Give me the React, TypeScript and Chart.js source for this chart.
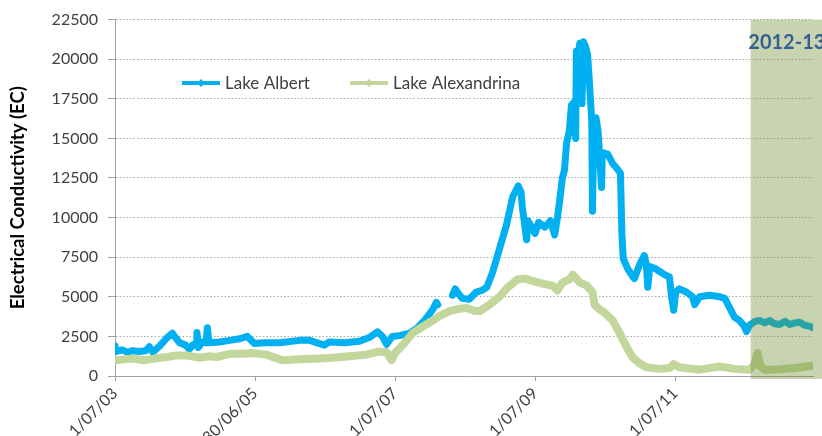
import React, { useEffect, useRef } from "react";
import { Chart, registerables } from "chart.js";

Chart.register(...registerables);

// X positions are decimal years (2003.5 = 1 July 2003)
const tickYears = [2003.5, 2005.5, 2007.5, 2009.5, 2011.5];
const tickLabels = ["1/07/03", "30/06/05", "1/07/07", "1/07/09", "1/07/11"];
const xMin = 2003.5;
const xMax = 2013.47;
const shadeStart = 2012.58;
const shadeLabel = "2012-13";

const yTicks = [0, 2500, 5000, 7500, 10000, 12500, 15000, 17500, 20000, 22500];

const albertYears = [
  2003.5, 2003.52, 2003.6, 2003.68, 2003.75, 2003.85, 2003.94, 2003.99, 2004.04, 2004.14,
  2004.24, 2004.32, 2004.36, 2004.42, 2004.51, 2004.56, 2004.62, 2004.66, 2004.67, 2004.69,
  2004.75, 2004.8, 2004.82, 2004.84, 2004.99, 2005.14, 2005.28, 2005.39, 2005.49, 2005.64,
  2005.85, 2006.14, 2006.28, 2006.49, 2006.56, 2006.78, 2006.99, 2007.14, 2007.25, 2007.32,
  2007.38, 2007.46, 2007.56, 2007.71, 2007.81, 2007.92, 2008.04, 2008.09, 2008.11, 2008.2,
  2008.32, 2008.36, 2008.39, 2008.46, 2008.56, 2008.66, 2008.74, 2008.81, 2008.89, 2008.99,
  2009.09, 2009.18, 2009.26, 2009.3, 2009.32, 2009.38, 2009.4, 2009.5, 2009.55, 2009.64,
  2009.72, 2009.78, 2009.82, 2009.85, 2009.89, 2009.92, 2009.95, 2009.99, 2010.02, 2010.06,
  2010.08, 2010.09, 2010.11, 2010.14, 2010.17, 2010.19, 2010.22, 2010.25, 2010.27, 2010.29,
  2010.31, 2010.32, 2010.34, 2010.37, 2010.4, 2010.45, 2010.46, 2010.54, 2010.61, 2010.67,
  2010.72, 2010.74, 2010.76, 2010.82, 2010.89, 2010.92, 2010.99, 2011.06, 2011.09, 2011.11,
  2011.14, 2011.21, 2011.28, 2011.35, 2011.42, 2011.45, 2011.48, 2011.51, 2011.56, 2011.66,
  2011.75, 2011.78, 2011.85, 2011.99, 2012.14, 2012.21, 2012.28, 2012.35, 2012.42, 2012.48,
  2012.52, 2012.56, 2012.64, 2012.71, 2012.78, 2012.85, 2012.92, 2012.99, 2013.07, 2013.14,
  2013.21, 2013.28, 2013.35, 2013.42, 2013.47,
];
const albertValues = [
  1900, 1550, 1650, 1500, 1600, 1550, 1600, 1850, 1500, 1900,
  2400, 2700, 2450, 2100, 1950, 1700, 2000, 2050, 2750, 1800,
  2150, 2100, 3050, 2100, 2150, 2250, 2350, 2500, 2050, 2100,
  2100, 2250, 2250, 1950, 2150, 2100, 2200, 2450, 2780, 2500,
  2000, 2500, 2550, 2700, 3000, 3500, 4200, 4650, 4500, null,
  5100, 5500, 5300, 4900, 4850, 5300, 5400, 5600, 6500, 8000,
  9500, 11300, 12000, 11600, 10600, 8600, 9800, 9000, 9700, 9400,
  9800, 8900, 10000, 11000, 12500, 13000, 14700, 15500, 17100, 17300,
  15000, 20500, 20200, 21000, 17200, 21100, 20800, 20300, 19000, 17550,
  16100, 10400, 16000, 16300, 15500, 11900, 14100, 14000, 13400, 13100,
  12800, 9000, 7400, 6800, 6300, 6150, 7000, 7600, 7000, 5600,
  6900, 6800, 6600, 6400, 6250, 5000, 4150, 5300, 5500, 5300,
  5000, 4500, 5000, 5100, 5000, 4900, 4300, 3700, 3500, 3200,
  2800, 3200, 3450, 3500, 3350, 3500, 3300, 3250, 3450, 3250,
  3350, 3400, 3200, 3150, 3050,
];

const alexYears = [
  2003.5, 2003.64, 2003.75, 2003.92, 2004.06, 2004.24, 2004.38, 2004.52, 2004.71, 2004.85,
  2004.95, 2005.14, 2005.35, 2005.46, 2005.66, 2005.89, 2006.14, 2006.42, 2006.61, 2006.85,
  2007.09, 2007.28, 2007.38, 2007.45, 2007.49, 2007.64, 2007.75, 2007.85, 2008.04, 2008.14,
  2008.28, 2008.42, 2008.52, 2008.64, 2008.71, 2008.85, 2008.99, 2009.11, 2009.25, 2009.36,
  2009.46, 2009.64, 2009.75, 2009.82, 2009.89, 2009.99, 2010.04, 2010.14, 2010.24, 2010.32,
  2010.35, 2010.42, 2010.49, 2010.61, 2010.71, 2010.81, 2010.89, 2010.99, 2011.09, 2011.28,
  2011.42, 2011.48, 2011.56, 2011.85, 2012.14, 2012.35, 2012.56, 2012.63, 2012.68, 2012.72,
  2012.78, 2012.99, 2013.21, 2013.46,
];
const alexValues = [
  1000, 1050, 1100, 1000, 1100, 1200, 1300, 1300, 1150, 1250,
  1200, 1400, 1400, 1450, 1350, 1000, 1050, 1100, 1150, 1250,
  1350, 1550, 1500, 1000, 1400, 2100, 2700, 3000, 3500, 3800,
  4100, 4250, 4300, 4100, 4100, 4500, 5000, 5600, 6100, 6150,
  6000, 5800, 5700, 5400, 5900, 6100, 6400, 5900, 5700, 5300,
  4500, 4200, 4000, 3500, 2700, 1800, 1200, 800, 550, 450,
  500, 750, 550, 400, 600, 450, 400, 700, 1450, 600,
  380, 420, 500, 650,
];

const seriesNames = ["Lake Albert", "Lake Alexandrina"];
const seriesColors = ["#00B0F0", "#C3D69B"];
const yTitle = "Electrical Conductivity (EC)";

const FONT = "Lato, 'Open Sans', sans-serif";

const overlayPlugin = {
  id: "overlay",
  afterDatasetsDraw(chart: any) {
    const { ctx, scales, chartArea } = chart;
    const xs = scales.x;
    const ys = scales.y;
    const x0 = xs.getPixelForValue(shadeStart);
    const y0 = ys.getPixelForValue(22500);
    const y1 = chartArea.bottom + 3;
    ctx.save();
    ctx.fillStyle = "rgba(110,142,47,0.38)";
    ctx.fillRect(x0, y0, chart.width - x0, y1 - y0);
    ctx.fillStyle = "#376092";
    ctx.font = `bold 20px ${FONT}`;
    ctx.textAlign = "center";
    ctx.textBaseline = "middle";
    ctx.fillText(shadeLabel, (x0 + chart.width) / 2 + 0.5, 43);

    // legend inside plot
    const legendItems = [
      { x: 182, w: 38 },
      { x: 350, w: 38 },
    ];
    const ly = 83;
    legendItems.forEach((it, i) => {
      ctx.strokeStyle = seriesColors[i];
      ctx.lineWidth = 4;
      ctx.lineCap = "butt";
      ctx.beginPath();
      ctx.moveTo(it.x, ly);
      ctx.lineTo(it.x + it.w, ly);
      ctx.stroke();
      ctx.fillStyle = seriesColors[i];
      const cx = it.x + it.w / 2;
      ctx.beginPath();
      ctx.moveTo(cx, ly - 4);
      ctx.lineTo(cx + 4, ly);
      ctx.lineTo(cx, ly + 4);
      ctx.lineTo(cx - 4, ly);
      ctx.closePath();
      ctx.fill();
      ctx.fillStyle = "#404040";
      ctx.font = `17px ${FONT}`;
      ctx.textAlign = "left";
      ctx.textBaseline = "middle";
      ctx.fillText(seriesNames[i], it.x + it.w + 5, ly + 1);
    });
    ctx.restore();
  },
};

export default function App() {
  const ref = useRef<HTMLCanvasElement>(null);

  useEffect(() => {
    if (!ref.current) return;
    const albertData = albertYears.map((x, i) => ({ x, y: albertValues[i] }));
    const alexData = alexYears.map((x, i) => ({ x, y: alexValues[i] }));
    const chart = new Chart(ref.current, {
      type: "line",
      data: {
        datasets: [
          {
            label: seriesNames[0],
            data: albertData as any,
            borderColor: seriesColors[0],
            backgroundColor: seriesColors[0],
            borderWidth: 7,
            pointStyle: "rectRot",
            pointRadius: 3,
            pointBorderWidth: 0,
            borderJoinStyle: "round",
            borderCapStyle: "round",
            spanGaps: false,
            order: 2,
          },
          {
            label: seriesNames[1],
            data: alexData as any,
            borderColor: seriesColors[1],
            backgroundColor: seriesColors[1],
            borderWidth: 8,
            pointStyle: "rectRot",
            pointRadius: 3,
            pointBorderWidth: 0,
            borderJoinStyle: "round",
            borderCapStyle: "round",
            order: 1,
          },
        ],
      },
      options: {
        responsive: false,
        animation: false,
        devicePixelRatio: 1,
        layout: { padding: { top: 18, right: 9, left: 0, bottom: 0 } },
        plugins: {
          legend: { display: false },
          tooltip: { enabled: false },
        },
        elements: { line: { tension: 0 } },
        scales: {
          x: {
            type: "linear",
            min: xMin,
            max: xMax,
            afterBuildTicks: (scale: any) => {
              scale.ticks = tickYears.map((v) => ({ value: v }));
            },
            afterFit: (scale: any) => {
              scale.height = 60;
            },
            ticks: {
              autoSkip: false,
              maxRotation: 45,
              minRotation: 45,
              padding: 3,
              color: "#404040",
              font: { family: FONT, size: 16 },
              callback: (value: any) => {
                const idx = tickYears.findIndex((t) => Math.abs(t - Number(value)) < 1e-6);
                return idx >= 0 ? tickLabels[idx] : "";
              },
            },
            grid: {
              drawOnChartArea: false,
              drawTicks: true,
              tickLength: 5,
              color: "#a0a0a0",
            },
            border: { display: true, color: "#a0a0a0", width: 1 },
          },
          y: {
            type: "linear",
            min: 0,
            max: 22500,
            afterBuildTicks: (scale: any) => {
              scale.ticks = yTicks.map((v) => ({ value: v }));
            },
            afterFit: (scale: any) => {
              scale.width = 115;
            },
            ticks: {
              padding: 10,
              color: "#404040",
              font: { family: FONT, size: 16 },
              callback: (v: any) => String(v),
            },
            grid: {
              color: "#a8a8a8",
              lineWidth: 1,
              tickLength: 7,
              tickColor: "#a0a0a0",
              tickBorderDash: [],
            },
            border: { display: true, color: "#a0a0a0", width: 1, dash: [1.5, 2] },
            title: {
              display: true,
              text: yTitle,
              color: "#000",
              font: { family: FONT, size: 18.5, weight: "bold" },
              padding: { top: 7, bottom: 0 },
            },
          },
        },
      },
      plugins: [overlayPlugin],
    });
    return () => chart.destroy();
  }, []);

  return (
    <div style={{ position: "absolute", left: 0, top: 0, width: 822, height: 436, background: "#fff" }}>
      <canvas ref={ref} width={822} height={436} style={{ display: "block" }} />
    </div>
  );
}
